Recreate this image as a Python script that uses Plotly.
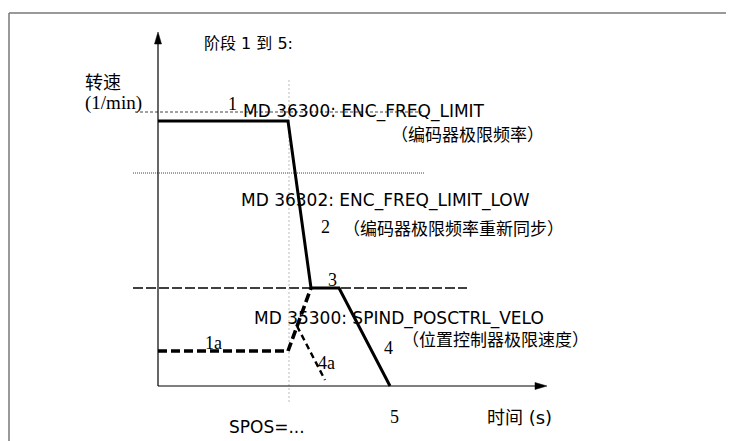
import plotly.graph_objects as go

# ---- diagram data (time units horizontally, speed units vertically; origin at axis crossing) ----
main_t = [0, 130, 153, 181, 232]          # stages 1 -> 2 -> 3 -> 4 -> 5
main_n = [265, 265, 98, 98, 0]
alt_t = [0, 130, 153]                     # stage 1a (dashed) rising to stage 3
alt_n = [35, 35, 98]
stop_t = [139, 167]                       # stage 4a (dashed)
stop_n = [60, 6]

limit_levels = [274, 213, 98]             # ENC_FREQ_LIMIT, ENC_FREQ_LIMIT_LOW, SPIND_POSCTRL_VELO
limit_start = [-23, -25, -25]
limit_end = [264, 266, 309]
spos_t = 131                              # SPOS=... marker time
spos_range = [-16, 307]

axis_t_end = 389
axis_n_end = 354

fig = go.Figure()

# reference limit lines
ref_styles = [
    dict(color="#444444", width=1, dash="3px,2px"),
    dict(color="#444444", width=1, dash="1px,1px"),
    dict(color="#000000", width=1.3, dash="10px,3px"),
]
for lvl, a, b, st in zip(limit_levels, limit_start, limit_end, ref_styles):
    fig.add_trace(go.Scatter(x=[a, b], y=[lvl, lvl], mode="lines", line=st,
                             hoverinfo="skip", showlegend=False))

# SPOS vertical dotted line
fig.add_trace(go.Scatter(x=[spos_t, spos_t], y=spos_range, mode="lines",
                         line=dict(color="#bbbbbb", width=1, dash="2px,2px"),
                         hoverinfo="skip", showlegend=False))

# axes
fig.add_trace(go.Scatter(x=[0, 0], y=[0, axis_n_end - 10], mode="lines",
                         line=dict(color="black", width=1.2), hoverinfo="skip", showlegend=False))
fig.add_trace(go.Scatter(x=[0, axis_t_end - 10], y=[0, 0], mode="lines",
                         line=dict(color="black", width=1.2), hoverinfo="skip", showlegend=False))

# curves
fig.add_trace(go.Scatter(x=alt_t, y=alt_n, mode="lines",
                         line=dict(color="black", width=3.6, dash="9px,4px"),
                         hoverinfo="skip", showlegend=False))
fig.add_trace(go.Scatter(x=stop_t, y=stop_n, mode="lines",
                         line=dict(color="black", width=2.4, dash="6px,4px"),
                         hoverinfo="skip", showlegend=False))
fig.add_trace(go.Scatter(x=main_t, y=main_n, mode="lines",
                         line=dict(color="black", width=3),
                         hoverinfo="skip", showlegend=False))

W, H = 726, 433   # page body has an 8px margin; figure fills the rest of the 734x441 window

frame = dict(color="#777777", width=1.5)
shapes = [
    # arrow heads
    dict(type="path", xref="x", yref="y",
         path=f"M -3.5,{axis_n_end-12} L 3.5,{axis_n_end-12} L 0,{axis_n_end} Z",
         fillcolor="black", line=dict(color="black", width=0.5)),
    dict(type="path", xref="x", yref="y",
         path=f"M {axis_t_end-12},3.5 L {axis_t_end-12},-3.5 L {axis_t_end},0 Z",
         fillcolor="black", line=dict(color="black", width=0.5)),
    # outer frame (left and top edges visible)
    dict(type="line", xref="paper", yref="paper", x0=1/W, x1=1/W, y0=-0.1, y1=1-5/H, line=frame),
    dict(type="line", xref="paper", yref="paper", x0=1/W, x1=1.1, y0=1-5/H, y1=1-5/H, line=frame),
]

SANS = "DejaVu Sans, Noto Sans CJK SC"
CJK = "Noto Sans CJK SC"
SERIF = "Liberation Serif, Noto Sans CJK SC"

labels = [
    # text, x, y, anchor, family, size
    ("阶段 1 到 5:", 44, 343, "left", SANS, 16),
    ("转速", -75, 305, "left", CJK, 18),
    ("(1/min)", -75, 283, "left", SERIF, 19),
    ("1", 74, 282, "center", SERIF, 18),
    ("MD 36300: ENC_FREQ_LIMIT", 83, 275, "left", SANS, 17),
    ("（编码器极限频率）", 231, 253, "left", CJK, 17),
    ("MD 36302: ENC_FREQ_LIMIT_LOW", 81, 186, "left", SANS, 17),
    ("2", 167, 159, "center", SERIF, 18),
    ("（编码器极限频率重新同步）", 183, 159, "left", CJK, 17),
    ("3", 174, 106, "center", SERIF, 18),
    ("MD 35300: SPIND_POSCTRL_VELO", 94, 68, "left", SANS, 17),
    ("（位置控制器极限速度）", 242, 48, "left", CJK, 17),
    ("4", 230, 38, "center", SERIF, 18),
    ("1a", 45, 43, "left", SERIF, 18),
    ("4a", 158, 23, "left", SERIF, 18),
    ("5", 236, -31, "center", SERIF, 18),
    ("时间 (s)", 327, -31, "left", SANS, 18),
    ("SPOS=...", 69, -41, "left", SANS, 17),
]

annotations = [
    dict(text=t, x=x, y=y, xref="x", yref="y", showarrow=False, xanchor=a, yanchor="middle",
         font=dict(family=f, size=s, color="black"))
    for t, x, y, a, f, s in labels
]

fig.update_layout(
    width=W, height=H,
    margin=dict(l=0, r=0, t=0, b=0),
    paper_bgcolor="white", plot_bgcolor="white",
    xaxis=dict(range=[-150, 576], visible=False, fixedrange=True),
    yaxis=dict(range=[-55, 378], visible=False, fixedrange=True),
    shapes=shapes, annotations=annotations,
    showlegend=False,
)

fig.write_html("out.html", config={"displayModeBar": False})
